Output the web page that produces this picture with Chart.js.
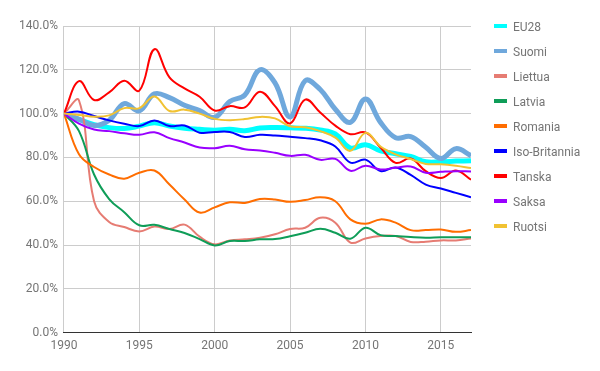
<!DOCTYPE html>
<html>
<head>
<meta charset="utf-8">
<script src="https://cdn.jsdelivr.net/npm/chart.js@4"></script>
<style>
  html, body { margin: 0; padding: 0; background: #fff; }
  #wrap { position: relative; width: 600px; height: 371px; }
  #legend { position: absolute; left: 494px; top: 19px; margin: 0; padding: 0; list-style: none;
    font: 12px Roboto, 'Noto Sans', sans-serif; color: #757575; }
  #legend li { height: 25px; line-height: 16px; white-space: nowrap; }
  #legend span { display: inline-block; width: 13px; height: 4px; margin-right: 6px; vertical-align: 3px; }
</style>
</head>
<body>
<div id="wrap">
  <canvas id="chart" width="600" height="371"></canvas>
  <ul id="legend"></ul>
</div>
<script>
const years = [1990, 1991, 1992, 1993, 1994, 1995, 1996, 1997, 1998, 1999,
  2000, 2001, 2002, 2003, 2004, 2005, 2006, 2007, 2008, 2009,
  2010, 2011, 2012, 2013, 2014, 2015, 2016, 2017];

const eu28 = [100, 97.4, 95, 93.6, 93.2, 94.3, 95.8, 94.3, 93.3, 92.8, 92.4, 92.8, 92.2, 93.4, 93.6, 93.5, 93.3, 92.5, 90.7, 84.3, 85.8, 83, 81.7, 80.4, 78, 78, 78.3, 78.5];
const suomi = [100, 97.4, 94.6, 97, 104.6, 101.2, 109, 107.3, 103.8, 101.4, 98.3, 105.5, 108.5, 120, 114, 98.5, 115, 111, 102, 96, 106.7, 96, 89, 89.5, 84.6, 79.5, 84, 80.8];
const liettua = [100, 106, 60, 50.5, 48.2, 46.2, 48.4, 47.3, 49.3, 43.8, 40.3, 42.1, 42.6, 43.3, 44.9, 47.3, 47.9, 52.4, 50.2, 41.1, 43, 44.1, 44.1, 41.4, 41.5, 42.1, 42.1, 43];
const latvia = [100, 92, 72.2, 61, 55, 49, 49.2, 47.3, 45.5, 42.7, 39.8, 41.8, 41.8, 42.6, 42.7, 44, 45.6, 47.4, 45.6, 42.9, 47.9, 44.5, 44.1, 43.6, 43.3, 43.5, 43.5, 43.5];
const romania = [100, 81.4, 75.6, 72.2, 70.3, 73, 74, 67.6, 60.8, 54.8, 57.2, 59.5, 59.2, 61, 60.8, 59.7, 60.5, 61.8, 60, 51.7, 49.7, 51.7, 50.2, 46.8, 46.8, 47.1, 46, 46.8];
const isoBritannia = [100, 100.9, 98.9, 96.9, 95.4, 94.3, 96.9, 94.3, 94.6, 91.3, 91.6, 91.6, 89.3, 90.3, 90, 89.4, 88.8, 87.8, 85, 77.6, 79, 73.8, 75.4, 72, 67.6, 65.8, 63.8, 61.8];
const tanska = [100, 114.8, 106.2, 109.7, 115, 110.5, 129.4, 116.5, 111.5, 107.7, 101.4, 103.4, 102.8, 110, 103.4, 95.5, 106.4, 100.5, 94.5, 90.6, 91.4, 84.5, 77.5, 79.5, 73.7, 70.6, 74, 69.8];
const saksa = [100, 95.4, 92.7, 92, 91, 90.3, 91.5, 88.8, 86.8, 84.5, 84.2, 85.3, 83.7, 83.2, 82.1, 80.7, 81.2, 78.9, 79.3, 73.9, 76.2, 74.5, 75.3, 75.8, 73, 73.4, 73.7, 73.6];
const ruotsi = [100, 99.4, 98.6, 99.2, 102.5, 102.5, 107.8, 101.2, 101.8, 100, 97.6, 97, 97.5, 98.5, 97.8, 94.2, 93.8, 92, 89, 83, 91.2, 85, 81.4, 79.3, 77, 76.9, 76.2, 75.1];

const series = [
  { name: "EU28", values: eu28, color: "#00ffff", width: 5 },
  { name: "Suomi", values: suomi, color: "#6fa8dc", width: 5 },
  { name: "Liettua", values: liettua, color: "#e67c73", width: 2 },
  { name: "Latvia", values: latvia, color: "#0f9d58", width: 2 },
  { name: "Romania", values: romania, color: "#ff6d00", width: 2 },
  { name: "Iso-Britannia", values: isoBritannia, color: "#0000ff", width: 2 },
  { name: "Tanska", values: tanska, color: "#ff0000", width: 2 },
  { name: "Saksa", values: saksa, color: "#9900ff", width: 2 },
  { name: "Ruotsi", values: ruotsi, color: "#f1c232", width: 2 }
];

Chart.defaults.font.family = "Roboto, 'Noto Sans', sans-serif";
Chart.defaults.font.size = 12;
Chart.defaults.color = "#757575";

const ctx = document.getElementById("chart").getContext("2d");

const chart = new Chart(ctx, {
  type: "line",
  data: {
    datasets: series.map((s, i) => ({
      label: s.name,
      data: s.values.map((v, j) => ({ x: years[j], y: v })),
      borderColor: s.color,
      backgroundColor: s.color,
      borderWidth: s.width,
      pointRadius: 0,
      tension: 0.4,
      fill: false,
      // later series drawn on top, like the original
      order: series.length - i
    }))
  },
  options: {
    responsive: false,
    animation: false,
    layout: { padding: { left: 13, top: 26, right: 129, bottom: 12 } },
    plugins: {
      tooltip: { enabled: false },
      legend: { display: false }
    },
    scales: {
      x: {
        type: "linear",
        min: 1990,
        max: 2017,
        grid: { color: "#cccccc", drawTicks: false },
        border: { color: "#333333" },
        ticks: {
          stepSize: 5,
          includeBounds: false,
          padding: 6,
          maxRotation: 0,
          callback: (v) => String(v)
        }
      },
      y: {
        min: 0,
        max: 140,
        grid: { color: "#cccccc", drawTicks: false },
        border: { display: false },
        ticks: {
          stepSize: 20,
          padding: 6,
          callback: (v) => v.toFixed(1) + "%"
        }
      }
    }
  }
});

// legend built from the chart's own datasets
const legend = document.getElementById("legend");
chart.data.datasets.forEach((ds) => {
  const li = document.createElement("li");
  const sw = document.createElement("span");
  sw.style.background = ds.borderColor;
  li.appendChild(sw);
  li.appendChild(document.createTextNode(ds.label));
  legend.appendChild(li);
});
</script>
</body>
</html>
